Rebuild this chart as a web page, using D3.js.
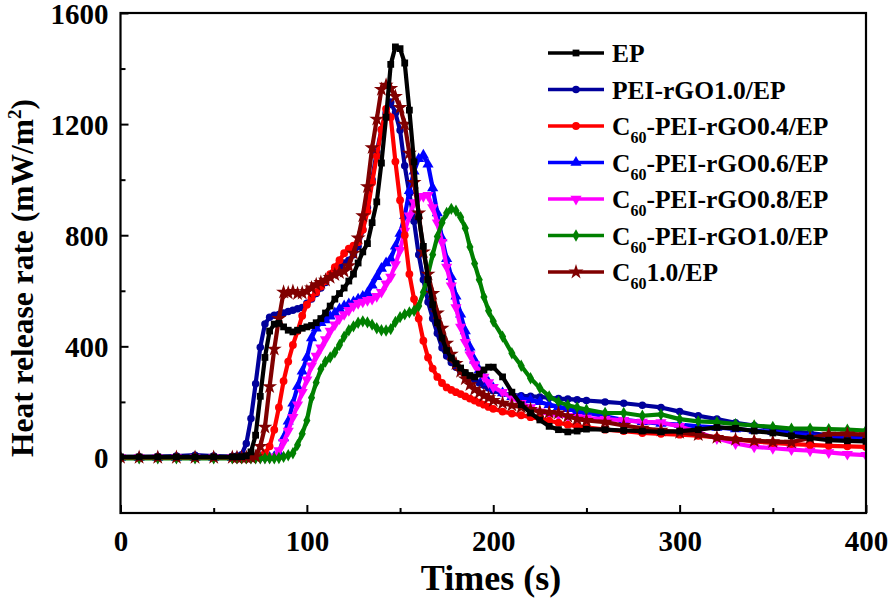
<!DOCTYPE html>
<html>
<head>
<meta charset="utf-8">
<script src="https://cdn.jsdelivr.net/npm/d3@7/dist/d3.min.js"></script>
<style>
  html, body { margin: 0; padding: 0; background: #fff; }
  svg { display: block; }
  text { font-family: "Liberation Serif", "Times New Roman", serif; font-weight: bold; fill: #000; }
</style>
</head>
<body>
<svg id="chart" width="890" height="600"></svg>
<script>
// ---------------- DATA ----------------
const times = [0,10,20,30,40,50,
  60,62.5,65,67.5,70,72.5,75,77.5,80,82.5,85,87.5,90,92.5,95,97.5,
  100,102.5,105,107.5,110,112.5,115,117.5,120,122.5,125,127.5,130,132.5,135,137.5,
  140,142.5,145,147.5,150,152.5,155,157.5,160,162.5,165,167.5,170,172.5,175,177.5,
  180,182.5,185,187.5,190,192.5,195,197.5,200,
  205,210,215,220,225,230,235,240,245,250,
  260,270,280,290,300,310,320,330,340,350,360,370,380,390,400];

const seriesNames = ["EP","PEI-rGO1.0/EP","C60-PEI-rGO0.4/EP","C60-PEI-rGO0.6/EP","C60-PEI-rGO0.8/EP","C60-PEI-rGO1.0/EP","C601.0/EP"];

const hrrEP = [2,2,2,2,2,2,
  2,2,3,6, 20,80,220,360, 455,480,483,470, 458,452,458,465,
  470,475,485,500, 520,545,570,590, 610,635,660,700, 740,770,845,920,
  1060,1225,1415,1478, 1472,1420,1250,1064, 866,760,640,550, 485,430,385,358,
  338,322,305,295, 290,300,315,325, 325,
  290,235,190,160,135,112,100,92,95,102,
  100,97,95,92,95,100,108,105,95,88,78,70,62,60,58];

const hrrPEI10 = [2,2,3,5,8,5,
  3,5,10,50, 140,265,397,480, 505,512,515,520, 525,530,535,540,
  555,570,590,610, 630,655,670,685, 700,710,730,760, 820,900,1000,1100,
  1180,1240,1280,1240, 1178,1050,950,850, 730,640,560,500, 447,395,365,342,
  325,310,300,290, 280,268,260,250, 240,
  230,225,222,220,218,215,212,210,208,205,
  200,195,188,180,165,150,138,125,115,105,95,88,80,75,70];

const hrrC60PEI04 = [0,0,0,0,0,0,
  0,0,0,0, 0,2,5,15, 40,100,180,275, 345,405,455,510,
  550,575,595,615, 635,660,685,710, 735,752,762,775, 820,885,990,1085,
  1180,1255,1225,1065, 926,800,660,570, 500,420,360,320, 290,268,252,243,
  235,228,220,212, 205,197,190,182, 175,
  165,158,152,145,140,132,125,118,112,108,
  100,95,88,85,82,78,72,65,58,52,48,45,42,40,38];

const hrrC60PEI06 = [0,0,0,0,0,0,
  0,0,0,0, 0,0,0,0, 0,3,15,70, 130,195,255,310,
  360,430,465,485, 495,508,520,535, 545,553,560,570, 580,592,620,650,
  680,700,715,760, 806,870,960,1030, 1075,1088,1055,970, 880,790,715,650,
  580,515,455,397, 350,315,290,270, 250,
  232,218,212,207,200,190,182,175,168,162,
  148,135,128,122,118,112,108,102,97,92,86,80,75,70,65];

const hrrC60PEI08 = [0,0,0,0,0,0,
  0,0,0,0, 0,0,0,0, 0,3,25,55, 95,145,190,235,
  280,330,365,395, 425,455,478,500, 515,530,545,555, 560,566,570,580,
  595,625,650,695, 746,815,870,918, 935,940,944,900, 845,775,686,618,
  540,470,415,370, 335,312,290,270, 253,
  235,215,195,180,165,157,152,148,145,142,
  138,134,128,126,112,90,68,50,38,33,28,24,18,12,8];

const hrrC60PEI10 = [-3,-3,-3,-3,-3,-3,
  -3,-3,-3,-3, -3,-3,-3,-3, -3,-3,-2,2, 8,15,45,85,
  133,215,270,318, 345,360,378,405, 435,458,472,485, 490,486,478,465,
  458,457,462,488, 505,515,522,528, 545,595,660,730, 795,845,880,895,
  888,865,825,758, 698,640,578,528, 490,
  435,375,330,285,250,220,200,188,180,172,
  160,160,150,155,138,130,127,120,115,110,104,104,102,100,97];

const hrrC6010 = [0,0,0,0,0,0,
  0,0,0,0, 0,3,40,109, 255,390,500,595, 592,598,590,592,
  598,610,622,630, 638,648,658,665, 670,690,735,790, 870,975,1115,1218,
  1325,1340,1328,1300, 1260,1200,1095,990, 880,740,660,590, 520,465,411,372,
  338,310,283,262, 245,233,223,215, 205,
  195,188,181,173,165,162,160,148,138,133,
  127,115,105,98,90,82,72,65,60,57,55,70,84,85,82];

const xMajorTicks = [0,100,200,300,400];
const xMinorTicks = [50,150,250,350];
const yMajorTicks = [0,400,800,1200,1600];
const yMinorTicks = [200,600,1000,1400];

// ---------------- STYLE ----------------
const seriesValues = [hrrEP, hrrPEI10, hrrC60PEI04, hrrC60PEI06, hrrC60PEI08, hrrC60PEI10, hrrC6010];
const colors = ["#000000","#00009c","#ff0000","#0000ff","#ff00ff","#008000","#800000"];
const symbols = [d3.symbolSquare, d3.symbolCircle, d3.symbolCircle, d3.symbolTriangle, d3.symbolTriangle, d3.symbolDiamond, d3.symbolStar];
const symSizes = [46, 44, 48, 54, 54, 44, 70];
const symRot = [0,0,0,0,180,0,0];
const drawOrder = [1,3,4,2,5,6,0];

const svg = d3.select("#chart");
const L = 120.5, R = 866, T = 13, B = 513;
const x = d3.scaleLinear().domain([0,400]).range([L,R]);
const y = d3.scaleLinear().domain([-200,1600]).range([B,T]);

svg.append("defs").append("clipPath").attr("id","clip")
  .append("rect").attr("x",L).attr("y",T).attr("width",R-L).attr("height",B-T);

const plot = svg.append("g").attr("clip-path","url(#clip)");
const line = d3.line().x(d => x(d[0])).y(d => y(d[1]));

drawOrder.forEach(i => {
  const pts = times.map((t,k) => [t, seriesValues[i][k]]);
  const g = plot.append("g");
  g.append("path").datum(pts).attr("d", line)
    .attr("fill","none").attr("stroke",colors[i]).attr("stroke-width",4.2)
    .attr("stroke-linejoin","round");
  const sym = d3.symbol().type(symbols[i]).size(symSizes[i]);
  g.selectAll("path.m").data(pts).join("path").attr("class","m")
    .attr("d", sym)
    .attr("transform", d => `translate(${x(d[0])},${y(d[1])}) rotate(${symRot[i]})`)
    .attr("fill", colors[i]);
});

// axes
const fontTick = 29;
const xAxis = svg.append("g").attr("transform",`translate(0,${B})`)
  .call(d3.axisBottom(x).tickValues(xMajorTicks).tickSize(-8).tickPadding(17).tickFormat(d3.format("d")));
const xMinor = svg.append("g").attr("transform",`translate(0,${B})`)
  .call(d3.axisBottom(x).tickValues(xMinorTicks).tickSize(-5).tickFormat(""));
const yAxis = svg.append("g").attr("transform",`translate(${L},0)`)
  .call(d3.axisLeft(y).tickValues(yMajorTicks).tickSize(-8).tickPadding(12).tickFormat(d3.format("d")));
const yMinor = svg.append("g").attr("transform",`translate(${L},0)`)
  .call(d3.axisLeft(y).tickValues(yMinorTicks).tickSize(-5).tickFormat(""));
[xAxis,xMinor,yAxis,yMinor].forEach(a => {
  a.select(".domain").remove();
  a.selectAll(".tick line").attr("stroke","#000").attr("stroke-width",2);
  a.selectAll(".tick text").attr("font-size",fontTick)
    .attr("font-family",'"Liberation Serif","Times New Roman",serif').attr("font-weight","bold").attr("fill","#000");
});
yAxis.selectAll(".tick text").attr("dy","0.36em");

svg.append("rect").attr("x",L).attr("y",T).attr("width",R-L).attr("height",B-T)
  .attr("fill","none").attr("stroke","#000").attr("stroke-width",2.2);

// axis titles
svg.append("text").attr("x",491).attr("y",590).attr("text-anchor","middle")
  .attr("font-size",36).text("Times (s)");
const yt = svg.append("text").attr("transform","translate(33,278) rotate(-90)")
  .attr("text-anchor","middle").attr("font-size",31.5);
yt.append("tspan").text("Heat release rate (mW/m");
yt.append("tspan").attr("font-size",19).attr("dy",-12).text("2");
yt.append("tspan").attr("dy",12).text(")");

// legend
const legX1 = 548, legX2 = 604, legTextX = 612;
seriesNames.forEach((name,i) => {
  const ly = 53 + i*36.5;
  svg.append("line").attr("x1",legX1).attr("x2",legX2).attr("y1",ly).attr("y2",ly)
    .attr("stroke",colors[i]).attr("stroke-width",3.5);
  svg.append("path").attr("d", d3.symbol().type(symbols[i]).size(symSizes[i])())
    .attr("transform",`translate(${(legX1+legX2)/2},${ly}) rotate(${symRot[i]})`)
    .attr("fill",colors[i]);
  const t = svg.append("text").attr("x",legTextX).attr("y",ly+9).attr("font-size",25.5);
  if (name.startsWith("C60")) {
    t.append("tspan").text("C");
    t.append("tspan").attr("font-size",16).attr("dy",8).text("60");
    t.append("tspan").attr("dy",-8).text(name.slice(3));
  } else {
    t.text(name);
  }
});
</script>
</body>
</html>
